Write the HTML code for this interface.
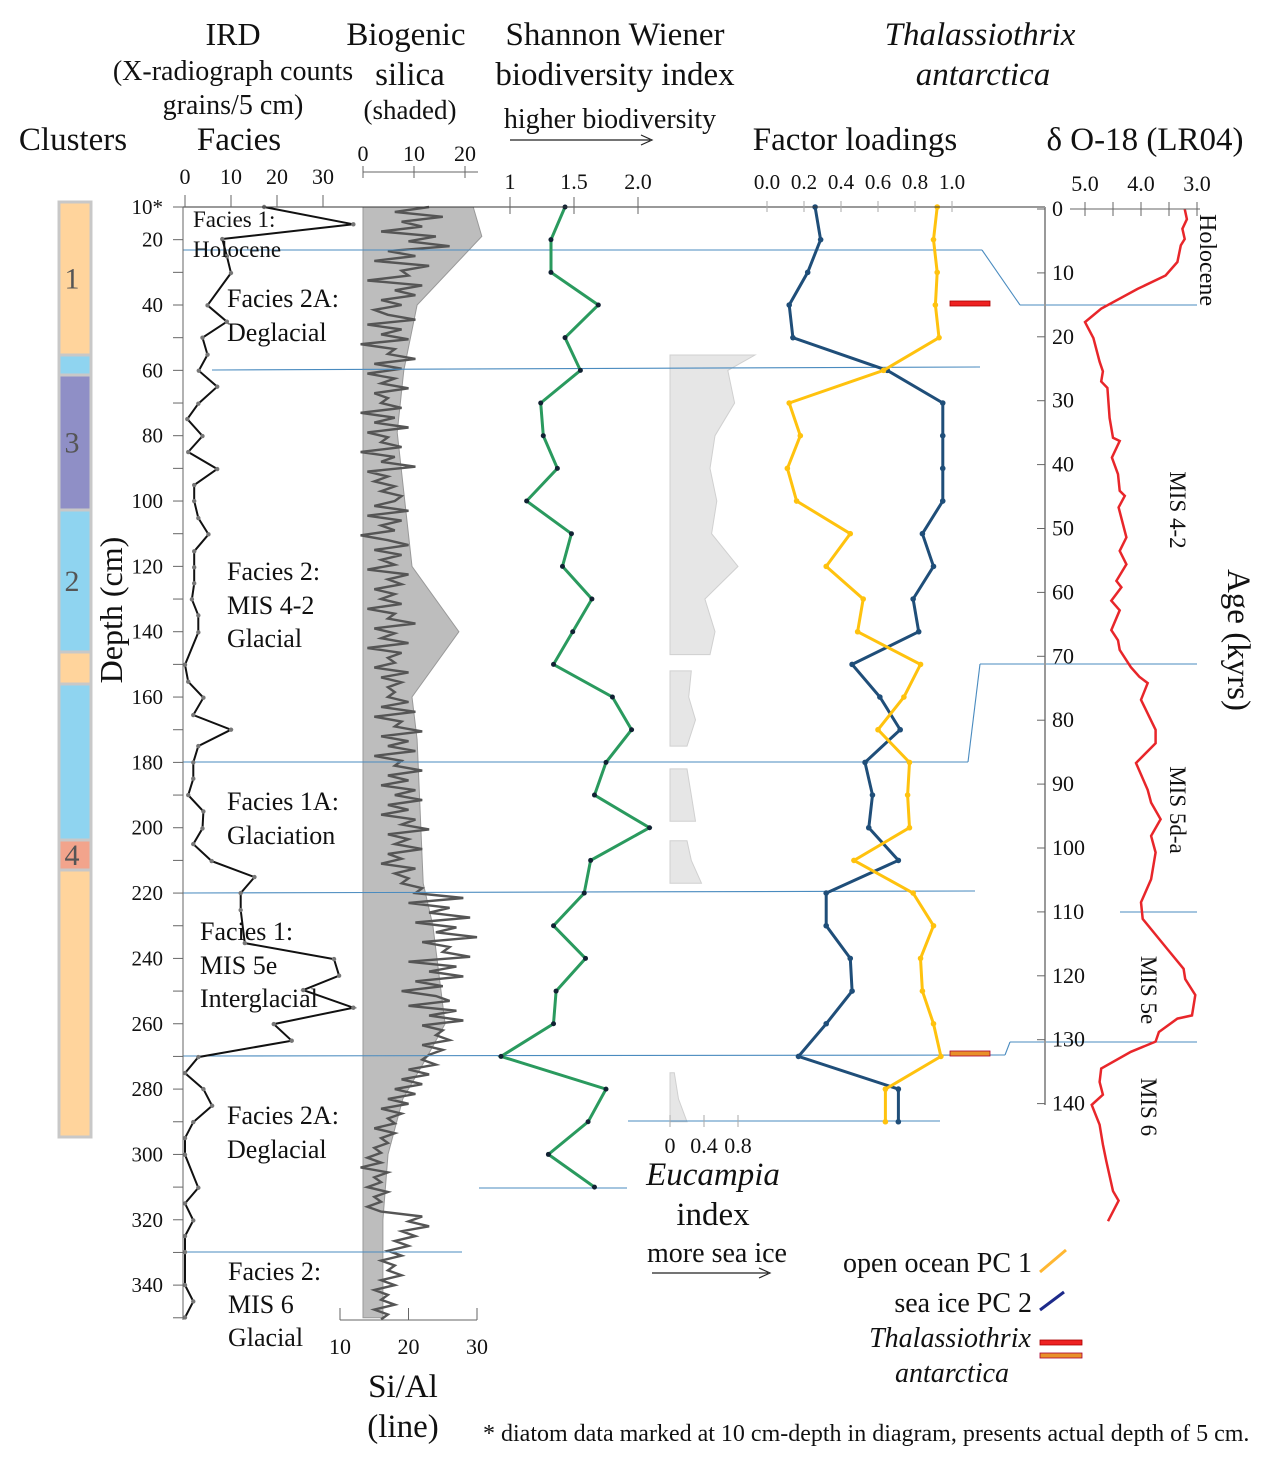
<!DOCTYPE html>
<html><head><meta charset="utf-8"><style>
body{margin:0;background:#fff}
svg{display:block;font-family:"Liberation Serif",serif}
</style></head><body>
<svg id="c" width="1276" height="1467" viewBox="0 0 1276 1467" xmlns="http://www.w3.org/2000/svg">
<g id="static" fill="#111">
<text x="233" y="45" font-size="32" text-anchor="middle">IRD</text>
<text x="233" y="80" font-size="28" text-anchor="middle">(X-radiograph counts</text>
<text x="233" y="114" font-size="28" text-anchor="middle">grains/5 cm)</text>
<text x="73" y="150" font-size="33" text-anchor="middle">Clusters</text>
<text x="239" y="150" font-size="33" text-anchor="middle">Facies</text>
<text x="406" y="45" font-size="33" text-anchor="middle">Biogenic</text>
<text x="410" y="85" font-size="33" text-anchor="middle">silica</text>
<text x="410" y="119" font-size="27" text-anchor="middle">(shaded)</text>
<text x="615" y="45" font-size="33" text-anchor="middle">Shannon Wiener</text>
<text x="615" y="85" font-size="33" text-anchor="middle">biodiversity index</text>
<text x="610" y="128" font-size="28" text-anchor="middle">higher biodiversity</text>
<line x1="510" y1="140" x2="650" y2="140" stroke="#222" stroke-width="1.2"/>
<path d="M641 135 L652 140 L641 145" fill="none" stroke="#222" stroke-width="1.2"/>
<text x="980" y="45" font-size="33" font-style="italic" text-anchor="middle">Thalassiothrix</text>
<text x="983" y="85" font-size="33" font-style="italic" text-anchor="middle">antarctica</text>
<text x="855" y="150" font-size="33" text-anchor="middle">Factor loadings</text>
<text x="1145" y="150" font-size="33" text-anchor="middle">δ O-18 (LR04)</text>
<text x="403" y="1397" font-size="33" text-anchor="middle">Si/Al</text>
<text x="403" y="1437" font-size="33" text-anchor="middle">(line)</text>
<text x="713" y="1185" font-size="33" font-style="italic" text-anchor="middle">Eucampia</text>
<text x="713" y="1225" font-size="33" text-anchor="middle">index</text>
<text x="717" y="1262" font-size="28" text-anchor="middle">more sea ice</text>
<line x1="652" y1="1273" x2="768" y2="1273" stroke="#222" stroke-width="1.2"/>
<path d="M759 1268 L770 1273 L759 1278" fill="none" stroke="#222" stroke-width="1.2"/>
<text x="483" y="1441" font-size="24">* diatom data marked at 10 cm-depth in diagram, presents actual depth of 5 cm.</text>
<text x="1032" y="1272" font-size="28" text-anchor="end">open ocean PC 1</text>
<line x1="1040" y1="1272" x2="1066" y2="1250" stroke="#ffb732" stroke-width="3"/>
<text x="1032" y="1312" font-size="28" text-anchor="end">sea ice PC 2</text>
<line x1="1040" y1="1310" x2="1064" y2="1292" stroke="#1d2a8a" stroke-width="3"/>
<text x="950" y="1347" font-size="28" font-style="italic" text-anchor="middle">Thalassiothrix</text>
<text x="952" y="1382" font-size="28" font-style="italic" text-anchor="middle">antarctica</text>
<rect x="1040" y="1340" width="42" height="5" fill="#e22" stroke="#a00" stroke-width="0.8"/>
<rect x="1040" y="1353" width="42" height="5" fill="#e8902a" stroke="#a03" stroke-width="0.8"/>
<text x="1228" y="640" font-size="33" text-anchor="middle" transform="rotate(90 1228 640)">Age (kyrs)</text>
<text x="1200" y="260" font-size="24" text-anchor="middle" transform="rotate(90 1200 260)">Holocene</text>
<text x="1170" y="510" font-size="23" text-anchor="middle" transform="rotate(90 1170 510)">MIS 4-2</text>
<text x="1170" y="810" font-size="23" text-anchor="middle" transform="rotate(90 1170 810)">MIS 5d-a</text>
<text x="1141" y="990" font-size="23" text-anchor="middle" transform="rotate(90 1141 990)">MIS 5e</text>
<text x="1141" y="1107" font-size="23" text-anchor="middle" transform="rotate(90 1141 1107)">MIS 6</text>
<text x="122" y="610" font-size="32" text-anchor="middle" transform="rotate(-90 122 610)">Depth (cm)</text>
</g>
</svg>
<script>
const depthsIRD=[10,15.3,19.8,25.1,30.2,40.1,45.1,50,55.2,60.1,65,70.2,74.9,80.1,85,90.2,95.1,100,105.2,110.2,115.4,120.3,125.2,130.1,135,140.2,150.1,155.3,160.2,165.5,170,175,180,185,190,195,200.2,205,210.2,215.1,220,225.2,235.3,240.2,245.3,249.7,255.1,260.1,265.2,270.2,275.1,280,285.1,290.1,295,300.1,310.2,315,320.2,325,329.9,340,345,349.9];
const valuesIRD=[17.2,36.6,8.1,9.1,10,4.9,9.1,3.8,4.9,3,7,2.9,0.5,3.8,0.7,7,2,2,2.9,5.1,2,2,2,1.5,2.9,2.9,0,0.7,4,1.8,10,2.9,1.8,1.8,0.7,4,3.8,1.8,5.8,15.1,12.1,12.1,13,32.4,33.5,25.7,36.6,19.3,23.2,2.9,0,4,5.9,1.8,0,0,2.9,0,1.8,0,0,0,1.8,0];
const depthsBSi=[10,19,40,60,79,120,140,160,173,217,230,260,270,283,300,320,350];
const valuesBSi=[21.6,23.3,10.6,8,6.7,9.6,18.8,9.6,10.6,11.8,13.7,16.1,12.6,7.8,4.9,3.9,3.9];
const sialStart=10, sialStep=1.5;
const valuesSiAl=[23,18,25,19,22,16,24,20,26,17,21,15,23,19,20,14,22,18,21,16,19,15,
17,21,14,19,16,20,13,18,17,21,15,19,14,18,16,20,15,17,
16,19,13,18,15,20,14,17,16,19,13,18,16,21,14,17,15,18,16,19,
18,15,20,14,19,16,18,13,17,20,15,19,16,18,14,20,17,19,15,18,
16,19,14,18,17,21,15,18,16,20,14,19,17,18,15,20,16,19,17,18,
17,20,16,21,15,19,18,22,16,20,17,21,15,19,18,22,17,20,16,21,
18,22,17,20,16,21,19,23,17,20,18,22,17,19,16,21,18,20,19,22,
21,28,20,26,23,29,21,27,24,30,22,26,25,29,20,27,23,28,21,25,
19,24,26,20,27,23,28,22,25,24,26,22,25,23,
22,24,20,23,19,22,18,21,17,20,16,19,17,18,15,18,16,17,15,16,
14,16,13,17,15,16,14,17,15,16,14,16,
22,20,23,19,21,18,20,17,19,16,18,17,19,16,18,15,17,16,18,15,17,16];
const depthsDiatom=[10,20,30,40,50,60,70,80,90,100,110,120,130,140,150,160,170,180,190,200,210,220,230,240,250,260,270,280,290,300,310];
const valuesShannon=[1.43,1.32,1.32,1.69,1.43,1.55,1.24,1.26,1.37,1.13,1.48,1.41,1.64,1.49,1.34,1.80,1.95,1.75,1.66,2.09,1.63,1.58,1.34,1.59,1.36,1.34,0.93,1.75,1.61,1.30,1.66];
const depthsPC=[10,20,30,40,50,60,70,80,90,100,110,120,130,140,150,160,170,180,190,200,210,220,230,240,250,260,270,280,290];
const valuesPC2=[0.26,0.29,0.22,0.12,0.14,0.65,0.95,0.95,0.95,0.95,0.84,0.90,0.79,0.82,0.46,0.61,0.72,0.53,0.57,0.55,0.71,0.32,0.32,0.45,0.46,0.32,0.17,0.71,0.71];
const valuesPC1=[0.92,0.90,0.92,0.91,0.93,0.63,0.12,0.18,0.11,0.16,0.45,0.32,0.52,0.49,0.83,0.74,0.60,0.77,0.76,0.77,0.47,0.79,0.90,0.83,0.84,0.90,0.94,0.64,0.64];
const eucSegDepths=[[55.3,60,70,80,90,100,110,120,130,140,147],[152,160,167,175],[182,190,198],[204,210,217],[275,283,290]];
const eucSegValues=[[1.0,0.68,0.76,0.53,0.47,0.55,0.49,0.80,0.41,0.53,0.47],[0.25,0.22,0.3,0.2],[0.2,0.25,0.3],[0.2,0.25,0.37],[0.05,0.1,0.2]];
const agesO18=[0,1.6,3.1,4.7,5.7,8.3,10.4,12.5,15.6,17.7,20.2,23.9,25.4,27,28,32.7,35.8,36.3,38.9,41.5,44.1,44.9,46.7,51.4,53.5,55.6,58.2,59.2,61.3,62.8,65.9,67.5,69,71.7,73.2,74.2,76.8,81.5,83.6,86.7,90.9,92.9,95.5,98.1,100.7,104.9,108.5,111.1,115.8,118.9,120.5,123,126.2,126.7,128.8,130.3,131.9,134.5,136.6,138.6,140.2,143.3,146.4,149,153.7,155.2,158.4];
const valuesO18=[3.22,3.18,3.26,3.22,3.29,3.35,3.56,4.06,4.71,5.0,4.85,4.74,4.68,4.71,4.6,4.56,4.5,4.38,4.52,4.41,4.38,4.29,4.4,4.26,4.38,4.26,4.44,4.35,4.53,4.38,4.53,4.41,4.38,4.18,4.03,3.88,4.0,3.74,3.74,4.09,3.88,3.82,3.65,3.82,3.74,3.82,4.0,3.97,3.53,3.24,3.21,3.03,3.09,3.35,3.68,3.74,4.18,4.71,4.74,4.68,4.88,4.74,4.68,4.62,4.5,4.4,4.59];
const depthTicks=[10,20,40,60,80,100,120,140,160,180,200,220,240,260,280,300,320,340];
const ageTicks=[0,10,20,30,40,50,60,70,80,90,100,110,120,130,140];

const NS='http://www.w3.org/2000/svg';
const svg=document.getElementById('c');
const yD=d=>207+(d-10)*3.267;
const xIRD=v=>185+v*4.6;
const xBSi=v=>363+v*5.1;
const xSiAl=v=>340+(v-10)*6.85;
const xSh=v=>510+(v-1)*128;
const xPC=v=>767+v*185;
const xEuc=v=>670+v*85;
const yAge=a=>209+a*6.39;
const xO18=v=>1085+(5-v)*56;
function mk(tag,attrs,parent){const e=document.createElementNS(NS,tag);for(const k in attrs)e.setAttribute(k,attrs[k]);(parent||svg).appendChild(e);return e;}
function pts(xs,ys){return xs.map((x,i)=>x.toFixed(1)+','+ys[i].toFixed(1)).join(' ');}

const clusters=[[202,355,'#ffd49c','1'],[355,375,'#8fd4f0',''],[375,510,'#8f8fc6','3'],[510,652,'#8fd4f0','2'],[652,684,'#ffd49c',''],[684,840,'#8fd4f0',''],[840,870,'#f2a48c','4'],[870,1137,'#ffd49c','']];
clusters.forEach(c=>{
 const r=mk('rect',{x:59,y:c[0],width:32,height:c[1]-c[0],fill:c[2],stroke:'#c8c8c8','stroke-width':3});
 
 
 if(c[3]){const t=mk('text',{x:72,y:(c[0]+c[1])/2+10,'font-size':30,'text-anchor':'middle',fill:'#555'});t.textContent=c[3];}
});

const bx=[xBSi(0)].concat(valuesBSi.map(xBSi)).concat([xBSi(0)]);
const by=[yD(10)].concat(depthsBSi.map(yD)).concat([yD(350)]);
const sil=mk('polygon',{points:pts(bx,by),fill:'#bdbdbd',stroke:'#999','stroke-width':1});


const sx=valuesSiAl.map(xSiAl), sy=valuesSiAl.map((v,i)=>yD(sialStart+i*sialStep));
const sl=mk('polyline',{points:pts(sx,sy),fill:'none',stroke:'#555','stroke-width':2.4});



eucSegDepths.forEach((ds,k)=>{
 const xs=[xEuc(0)].concat(eucSegValues[k].map(xEuc)).concat([xEuc(0)]);
 const ys=[yD(ds[0])].concat(ds.map(yD)).concat([yD(ds[ds.length-1])]);
 const p=mk('polygon',{points:pts(xs,ys),fill:'#e6e6e6',stroke:'#d0d0d0','stroke-width':1});
 
 
});

const bl='#4a8bbf';
[[183,250,982,250],[982,250,1020,305],[1020,305,1197,305],[212,370,980,367],[183,762,968,762],[968,762,980,664],[980,664,1197,664],[183,893,975,891],[183,1056,1005,1055],[1005,1055,1010,1042],[1010,1042,1197,1042],[1120,912,1197,912],[628,1121,940,1121],[479,1188,627,1188],[183,1252,462,1252]].forEach(l=>{
 const e=mk('line',{x1:l[0],y1:l[1],x2:l[2],y2:l[3],stroke:bl,'stroke-width':1.1});
 
 
});

const ix=valuesIRD.map(xIRD), iy=depthsIRD.map(yD);
const il=mk('polyline',{points:pts(ix,iy),fill:'none',stroke:'#111','stroke-width':2});


ix.forEach((x,i)=>mk('circle',{cx:x,cy:iy[i],r:2.2,fill:'#777'}));

const shx=valuesShannon.map(xSh), shy=depthsDiatom.map(yD);
const shl=mk('polyline',{points:pts(shx,shy),fill:'none',stroke:'#2a9a5e','stroke-width':3});


shx.forEach((x,i)=>mk('circle',{cx:x,cy:shy[i],r:2.5,fill:'#123'}));

const p2x=valuesPC2.map(xPC), py=depthsPC.map(yD);
const p2=mk('polyline',{points:pts(p2x,py),fill:'none',stroke:'#1f4e79','stroke-width':3});


p2x.forEach((x,i)=>mk('circle',{cx:x,cy:py[i],r:2.8,fill:'#1f4e79'}));
const p1x=valuesPC1.map(xPC);
const p1=mk('polyline',{points:pts(p1x,py),fill:'none',stroke:'#ffc20e','stroke-width':3});


p1x.forEach((x,i)=>mk('circle',{cx:x,cy:py[i],r:2.8,fill:'#ffc20e'}));
const m1=mk('rect',{x:950,y:301,width:40,height:5,fill:'#e22',stroke:'#a00','stroke-width':0.8});


const m2=mk('rect',{x:950,y:1051,width:40,height:5,fill:'#e8902a',stroke:'#a03','stroke-width':0.8});



const ox=valuesO18.map(xO18), oy=agesO18.map(yAge);
const ol=mk('polyline',{points:pts(ox,oy),fill:'none',stroke:'#e8262a','stroke-width':2.5});



const ax=mk('g',{stroke:'#666','stroke-width':1,fill:'none'});


mk('line',{x1:183,y1:207,x2:1045,y2:207,stroke:'#333'},ax);
mk('line',{x1:183,y1:207,x2:183,y2:1320},ax);
for(let d=10;d<=350;d+=10)mk('line',{x1:173,y1:yD(d),x2:183,y2:yD(d)},ax);
function lbl(x,y,s,sz,anchor,par){const t=mk('text',{x:x,y:y,'font-size':sz,'text-anchor':anchor||'middle',fill:'#111'},par);t.textContent=s;return t;}
const tg=mk('g',{});


depthTicks.forEach(d=>lbl(163,yD(d)+7,d===10?'10*':String(d),21,'end',tg));
[0,10,20,30].forEach(v=>{mk('line',{x1:xIRD(v),y1:195,x2:xIRD(v),y2:207},ax);lbl(xIRD(v),184,String(v),22,'middle',tg);});
mk('line',{x1:363,y1:172,x2:478,y2:172},ax);
[0,10,20].forEach(v=>{mk('line',{x1:xBSi(v),y1:166,x2:xBSi(v),y2:178},ax);lbl(xBSi(v),161,String(v),22,'middle',tg);});
[1,1.5,2].forEach(v=>{mk('line',{x1:xSh(v),y1:197,x2:xSh(v),y2:214},ax);lbl(xSh(v),189,v===2?'2.0':String(v),22,'middle',tg);});
[0,0.2,0.4,0.6,0.8,1.0].forEach(v=>{mk('line',{x1:xPC(v),y1:201,x2:xPC(v),y2:212,stroke:'#aaa'},ax);lbl(xPC(v),189,v.toFixed(1),21,'middle',tg);});
mk('line',{x1:340,y1:1320,x2:477,y2:1320},ax);
[10,20,30].forEach(v=>{mk('line',{x1:xSiAl(v),y1:1308,x2:xSiAl(v),y2:1320},ax);lbl(xSiAl(v),1354,String(v),22,'middle',tg);});
[0,0.4,0.8].forEach(v=>{mk('line',{x1:xEuc(v),y1:1115,x2:xEuc(v),y2:1127,stroke:'#aaa'},ax);lbl(xEuc(v),1153,String(v),22,'middle',tg);});
mk('line',{x1:1045,y1:207,x2:1045,y2:1105,stroke:'#999','stroke-width':2},ax);
ageTicks.forEach(a=>{mk('line',{x1:1037,y1:yAge(a),x2:1045,y2:yAge(a)},ax);lbl(1052,yAge(a)+7,String(a),22,'start',tg);});
mk('line',{x1:1070,y1:209,x2:1200,y2:209},ax);
[5,4.5,4,3.5,3].forEach(v=>mk('line',{x1:xO18(v),y1:202,x2:xO18(v),y2:216},ax));
[5,4,3].forEach(v=>lbl(xO18(v),191,v.toFixed(1),22,'middle',tg));

const fac=[[193,227,'Facies 1:'],[193,257,'Holocene'],[227,307,'Facies 2A:'],[227,341,'Deglacial'],[227,580,'Facies 2:'],[227,614,'MIS 4-2'],[227,647,'Glacial'],[227,810,'Facies 1A:'],[227,844,'Glaciation'],[200,940,'Facies 1:'],[200,974,'MIS 5e'],[200,1007,'Interglacial'],[227,1124,'Facies 2A:'],[227,1158,'Deglacial'],[228,1280,'Facies 2:'],[228,1313,'MIS 6'],[228,1346,'Glacial']];
fac.forEach(f=>{const t=lbl(f[0],f[1],f[2],f[0]===193?23:26,'start');
 
 });
</script>
</body></html>
